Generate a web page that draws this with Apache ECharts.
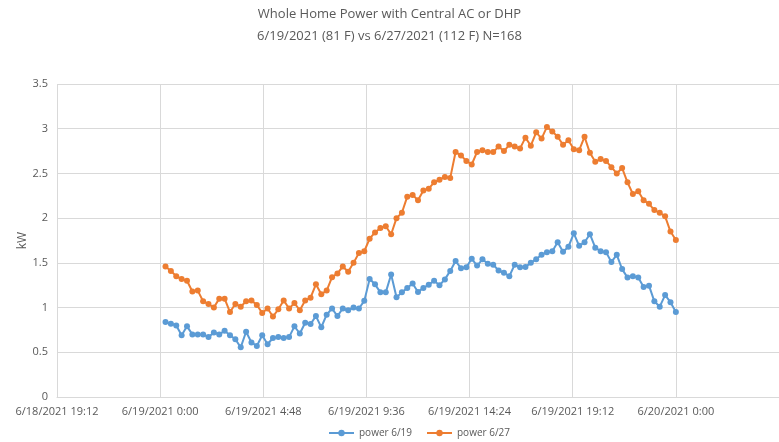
<!DOCTYPE html>
<html>
<head>
    <meta charset="utf-8"/>
    <style>
        html, body {
            height: 100%;
            margin: 0;
            padding: 0;
            background: #ffffff;
        }

        .container {
            width: 779px;
            height: 442px;
        }
    </style>
</head>

<body>
<div id="main" class="container"></div>
<script src="https://cdn.jsdelivr.net/npm/echarts@6/dist/echarts.min.js"></script>
<script type="text/javascript">
// readings every 15 minutes, first at 0:15, last at 24:00 (minutes after 6/19/2021 0:00)
var firstMinute = 15;
var stepMinutes = 15;

var power619 = [
    0.84, 0.82, 0.80, 0.69, 0.79, 0.70, 0.70, 0.70, 0.67, 0.72, 0.70, 0.74,
    0.69, 0.645, 0.555, 0.73, 0.61, 0.57, 0.69, 0.59, 0.66, 0.67, 0.66, 0.67,
    0.79, 0.71, 0.83, 0.815, 0.905, 0.78, 0.92, 0.99, 0.905, 0.99, 0.97, 1.00,
    0.99, 1.075, 1.32, 1.26, 1.17, 1.17, 1.37, 1.115, 1.17, 1.22, 1.27, 1.175,
    1.22, 1.255, 1.30, 1.25, 1.315, 1.41, 1.52, 1.44, 1.45, 1.545, 1.47, 1.54,
    1.49, 1.48, 1.415, 1.39, 1.35, 1.48, 1.45, 1.455, 1.50, 1.54, 1.59, 1.62,
    1.63, 1.73, 1.625, 1.68, 1.83, 1.69, 1.73, 1.82, 1.67, 1.63, 1.62, 1.51,
    1.59, 1.43, 1.335, 1.35, 1.335, 1.23, 1.245, 1.07, 1.01, 1.14, 1.06, 0.95
];

var power627 = [
    1.46, 1.41, 1.35, 1.32, 1.30, 1.18, 1.19, 1.07, 1.04, 1.00, 1.10, 1.10,
    0.95, 1.04, 1.01, 1.07, 1.08, 1.03, 0.94, 0.99, 0.90, 0.98, 1.08, 0.99,
    1.05, 0.97, 1.08, 1.11, 1.26, 1.15, 1.19, 1.34, 1.38, 1.46, 1.40, 1.50,
    1.61, 1.63, 1.77, 1.84, 1.89, 1.91, 1.82, 2.00, 2.06, 2.24, 2.26, 2.20,
    2.31, 2.33, 2.40, 2.43, 2.46, 2.45, 2.74, 2.70, 2.64, 2.60, 2.74, 2.76,
    2.74, 2.74, 2.80, 2.75, 2.82, 2.80, 2.78, 2.90, 2.81, 2.96, 2.89, 3.02,
    2.97, 2.91, 2.82, 2.87, 2.77, 2.76, 2.91, 2.73, 2.63, 2.66, 2.64, 2.57,
    2.50, 2.56, 2.40, 2.27, 2.30, 2.20, 2.16, 2.09, 2.06, 2.02, 1.85, 1.755
];

// x axis ticks, 4:48 apart, in minutes after 6/19/2021 0:00
var xTickMinutes = [-288, 0, 288, 576, 864, 1152, 1440, 1728];
var xTickLabels = ['6/18/2021 19:12', '6/19/2021 0:00', '6/19/2021 4:48', '6/19/2021 9:36',
    '6/19/2021 14:24', '6/19/2021 19:12', '6/20/2021 0:00', '6/20/2021 4:48'];

var textColor = '#595959';
var gridColor = '#d9d9d9';

function toPairs(values) {
    var out = [];
    for (var i = 0; i < values.length; i++) {
        out.push([firstMinute + i * stepMinutes, values[i]]);
    }
    return out;
}

function tickLabel(v) {
    var idx = xTickMinutes.indexOf(Math.round(v));
    return idx >= 0 ? xTickLabels[idx] : '';
}

var myChart = echarts.init(document.getElementById('main'));

var option = {
    animation: false,
    textStyle: {
        fontFamily: 'Open Sans'
    },
    title: {
        text: 'Whole Home Power with Central AC or DHP\n6/19/2021 (81 F) vs 6/27/2021 (112 F) N=168',
        left: 'center',
        top: 3,
        padding: 0,
        textStyle: {
            color: textColor,
            fontSize: 13,
            fontWeight: 'normal',
            lineHeight: 22,
            fontFamily: 'Open Sans'
        }
    },
    legend: {
        top: 428,
        left: 328,
        itemGap: 14,
        itemWidth: 25,
        itemHeight: 8,
        padding: 0,
        selectedMode: false,
        textStyle: {
            color: textColor,
            fontSize: 10
        },
        data: ['power 6/19', 'power 6/27']
    },
    grid: {
        left: 57,
        right: 0,
        top: 84,
        bottom: 45,
        containLabel: false
    },
    xAxis: {
        type: 'value',
        min: xTickMinutes[0],
        max: xTickMinutes[xTickMinutes.length - 1],
        interval: 288,
        axisLine: {
            show: true,
            lineStyle: {color: gridColor}
        },
        axisTick: {show: false},
        splitLine: {
            show: true,
            lineStyle: {color: gridColor}
        },
        axisLabel: {
            color: textColor,
            fontSize: 11,
            margin: 9,
            showMaxLabel: false,
            formatter: tickLabel
        }
    },
    yAxis: {
        type: 'value',
        min: 0,
        max: 3.5,
        interval: 0.5,
        name: 'kW',
        nameLocation: 'middle',
        nameRotate: 90,
        nameGap: 28,
        nameMoveOverlap: false,
        nameTextStyle: {
            color: textColor,
            fontSize: 12
        },
        axisLine: {show: false},
        axisTick: {show: false},
        splitLine: {
            show: true,
            lineStyle: {color: gridColor}
        },
        axisLabel: {
            color: textColor,
            fontSize: 11,
            margin: 9
        }
    },
    series: [
        {
            name: 'power 6/19',
            type: 'line',
            symbol: 'circle',
            symbolSize: 6,
            data: toPairs(power619),
            lineStyle: {width: 2, color: '#5B9BD5'},
            itemStyle: {color: '#5B9BD5'}
        },
        {
            name: 'power 6/27',
            type: 'line',
            symbol: 'circle',
            symbolSize: 6,
            data: toPairs(power627),
            lineStyle: {width: 2, color: '#ED7D31'},
            itemStyle: {color: '#ED7D31'}
        }
    ]
};

myChart.setOption(option);
</script>
</body>
</html>
